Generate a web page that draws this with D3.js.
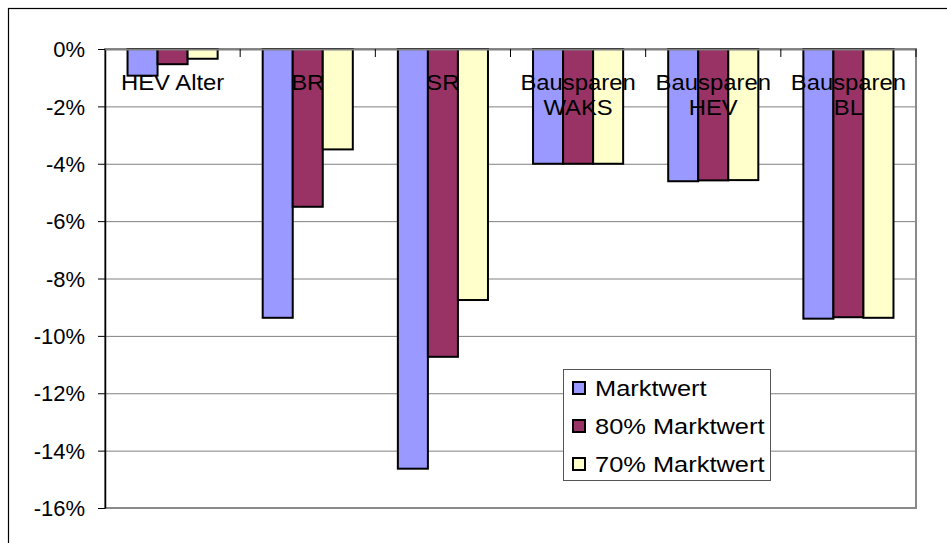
<!DOCTYPE html>
<html><head><meta charset="utf-8">
<script src="https://cdn.jsdelivr.net/npm/d3@7"></script>
<style>body{margin:0;background:#fff}svg{display:block;font-family:"Liberation Sans",Arial,sans-serif}</style>
</head><body><svg id="c" width="947" height="543"></svg>
<script>
const categories = [["HEV Alter"], ["BR"], ["SR"], ["Bausparen","WAKS"], ["Bausparen","HEV"], ["Bausparen","BL"]];
const seriesNames = ["Marktwert", "80% Marktwert", "70% Marktwert"];
const marktwert = [-0.93, -9.37, -14.63, -4.0, -4.61, -9.4];
const markt80 = [-0.53, -5.5, -10.73, -4.0, -4.58, -9.35];
const markt70 = [-0.34, -3.5, -8.75, -4.0, -4.57, -9.37];
const yTicks = [0, -2, -4, -6, -8, -10, -12, -14, -16];
const colors = ["#9999FF", "#993366", "#FFFFCC"];

const FS = 22;
const svg = d3.select("#c");
const L = 105, R = 916, T = 49, B = 508;
const catKeys = categories.map(c => c.join(" "));
const x0 = d3.scaleBand().domain(catKeys).range([L, R]).padding(0);
const x1 = d3.scaleBand().domain(seriesNames).range([0, x0.bandwidth()]).paddingInner(0).paddingOuter(0.75);
const y = d3.scaleLinear().domain([0, -16]).range([T, B]);
const seriesVals = [marktwert, markt80, markt70];

// outer border
svg.append("rect").attr("x", 8.5).attr("y", 8.5).attr("width", 960).attr("height", 560)
  .attr("fill", "none").attr("stroke", "#000").attr("stroke-width", 1.2);

// gridlines
svg.append("g").selectAll("line").data(yTicks.slice(1, -1)).join("line")
  .attr("x1", L).attr("x2", R).attr("y1", d => y(d) + 0.5).attr("y2", d => y(d) + 0.5)
  .attr("stroke", "#808080").attr("stroke-width", 1);

// plot border
svg.append("rect").attr("x", L).attr("y", T).attr("width", R - L).attr("height", B - T)
  .attr("fill", "none").attr("stroke", "#8a8a8a").attr("stroke-width", 2);

// bars
const groups = svg.append("g").selectAll("g").data(catKeys).join("g")
  .attr("transform", d => `translate(${x0(d)},0)`);
groups.selectAll("rect").data((d, i) => seriesNames.map((s, j) => ({s, v: seriesVals[j][i], j})))
  .join("rect")
  .attr("x", d => x1(d.s)).attr("width", x1.bandwidth())
  .attr("y", y(0)).attr("height", d => y(d.v) - y(0))
  .attr("fill", d => colors[d.j]).attr("stroke", "#000").attr("stroke-width", 2);

// y axis
const yAxis = d3.axisLeft(y).tickValues(yTicks).tickSizeInner(7).tickSizeOuter(0).tickFormat(d => d + "%");
const gy = svg.append("g").attr("transform", `translate(${L},0)`).call(yAxis);
gy.select(".domain").attr("stroke", "#000").attr("stroke-width", 1.5);
gy.selectAll(".tick line").attr("stroke", "#000");
gy.selectAll(".tick text").attr("font-size", FS).attr("fill", "#000")
  .attr("font-family", "Liberation Sans, Arial, sans-serif")
  .attr("x", -20).attr("dy", "0.35em");

// category axis at top (y=0)
const xAxis = d3.axisBottom(x0).tickSize(0).tickFormat("");
const gx = svg.append("g").attr("transform", `translate(0,${y(0)})`).call(xAxis);
gx.select(".domain").attr("stroke", "#808080").attr("stroke-width", 2);
// tick marks between categories
svg.append("g").selectAll("line").data(catKeys.slice(1).concat(["__end"])).join("line")
  .attr("x1", d => d === "__end" ? R : x0(d)).attr("x2", d => d === "__end" ? R : x0(d))
  .attr("y1", y(0)).attr("y2", y(0) + 8).attr("stroke", "#000").attr("stroke-width", 1);
// category labels
gx.selectAll(".tick").each(function(d, i) {
  const t = d3.select(this).append("text")
    .attr("transform", "scale(1.06,1)")
    .attr("text-anchor", "middle").attr("font-size", 22.5).attr("fill", "#000");
  categories[i].forEach((line, k) => {
    t.append("tspan").attr("x", 0).attr("y", 41.5 + k * 25).text(line);
  });
});

// legend
const lg = svg.append("g");
lg.append("rect").attr("x", 563.5).attr("y", 369.5).attr("width", 207).attr("height", 111)
  .attr("fill", "#fff").attr("stroke", "#555").attr("stroke-width", 1);
const items = lg.selectAll("g.it").data(seriesNames).join("g").attr("class", "it")
  .attr("transform", (d, i) => `translate(0,${388 + i * 38})`);
items.append("rect").attr("x", 573).attr("y", -6).attr("width", 12).attr("height", 12)
  .attr("fill", (d, i) => colors[i]).attr("stroke", "#000").attr("stroke-width", 2);
items.append("text").attr("transform", "translate(595,0) scale(1.13,1)")
  .attr("dy", "0.36em").attr("font-size", 22.5).attr("fill", "#000").text(d => d);
</script></body></html>
